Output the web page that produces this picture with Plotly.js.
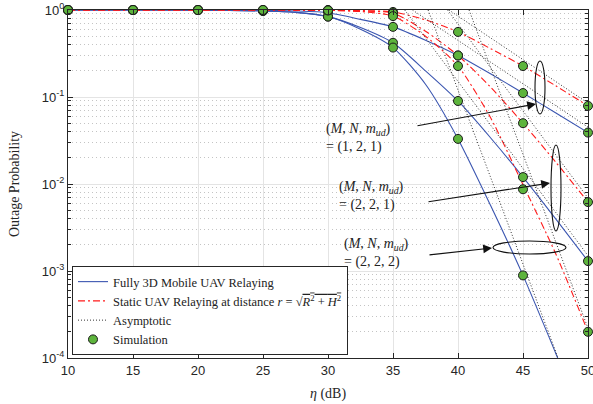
<!DOCTYPE html>
<html>
<head>
<meta charset="utf-8">
<script src="https://cdn.plot.ly/plotly-3.0.1.min.js"></script>
<style>html,body{margin:0;padding:0;background:#fff;}#chart{width:593px;height:404px;}</style>
</head>
<body>
<div id="chart"></div>
<script>
// ---- data ----
const eta = [10, 15, 20, 25, 27.5, 30, 32.5, 35, 37.5, 40, 42.5, 45, 47.5, 50];
const mobile121 = [1, 1, 0.999, 0.99, 0.975, 0.93, 0.78, 0.64, 0.45, 0.30, 0.185, 0.111, 0.066, 0.039];
const mobile221 = [1, 1, 0.998, 0.975, 0.94, 0.84, 0.63, 0.42, 0.20, 0.09, 0.034, 0.012, 0.004, 0.0013];
const mobile222 = [1, 1, 0.998, 0.975, 0.94, 0.84, 0.60, 0.37, 0.14, 0.033, 0.0057, 0.00089, 0.000115, 0.000014];
const static121 = [1, 1, 1, 1, 0.998, 0.995, 0.985, 0.95, 0.77, 0.56, 0.36, 0.227, 0.135, 0.079];
const static221 = [1, 1, 1, 1, 0.997, 0.99, 0.97, 0.92, 0.57, 0.30, 0.13, 0.05, 0.018, 0.0062];
const static222 = [1, 1, 1, 1, 0.997, 0.99, 0.96, 0.85, 0.50, 0.227, 0.058, 0.0098, 0.0016, 0.0002];

// asymptotes (straight lines, two end points each)
const asymMobile121X = [36.5, 50], asymMobile121Y = [1, 0.045];
const asymStatic121X = [39.3, 50], asymStatic121Y = [1, 0.085];
const asymMobile221X = [35.9, 50], asymMobile221Y = [1, 0.0015];
const asymStatic221X = [39.2, 50], asymStatic221Y = [1, 0.0069];
const asymMobile222X = [37.7, 50], asymMobile222Y = [1, 0.000012];
const asymStatic222X = [40.85, 50], asymStatic222Y = [1, 0.00022];

// simulation points
const simEta = [10, 15, 20, 25, 30, 35, 40, 45, 50];
const simMobile121 = [1, 1, 1, 0.99, 0.95, 0.64, 0.30, 0.111, 0.039];
const simMobile221 = [1, 1, 1, 0.975, 0.84, 0.42, 0.09, 0.012, 0.0013];
const simMobile222 = [1, 1, 1, 0.975, 0.84, 0.37, 0.033, 0.00089, null];
const simStatic121 = [1, 1, 1, 1, 1, 0.95, 0.56, 0.227, 0.079];
const simStatic221 = [1, 1, 1, 1, 0.99, 0.92, 0.30, 0.05, 0.0062];
const simStatic222 = [1, 1, 1, 1, 0.99, 0.85, 0.227, 0.0087, 0.0002];

const yTickVals = [1, 0.1, 0.01, 0.001, 0.0001];
const yTickText = ['10<sup>0</sup>', '10<sup>-1</sup>', '10<sup>-2</sup>', '10<sup>-3</sup>', '10<sup>-4</sup>'];
const xTickVals = [10, 15, 20, 25, 30, 35, 40, 45, 50];

const legendNames = [
  'Fully 3D Mobile UAV Relaying',
  'Static UAV Relaying at distance <i>r</i> = √<span style="text-decoration:overline"><i>R</i><sup>2</sup> + <i>H</i><sup>2</sup></span>',
  'Asymptotic',
  'Simulation'
];
const annTexts = [
  '(<i>M</i>, <i>N</i>, <i>m</i><sub><i>ud</i></sub>)<br>= (1, 2, 1)',
  '(<i>M</i>, <i>N</i>, <i>m</i><sub><i>ud</i></sub>)<br>= (2, 2, 1)',
  '(<i>M</i>, <i>N</i>, <i>m</i><sub><i>ud</i></sub>)<br>= (2, 2, 2)'
];

// ---- styling ----
const BLUE = '#3a55b0', RED = '#ff1a1a', GREEN = '#5db43c';
const SERIF = 'Liberation Serif, DejaVu Serif, serif';
const SANS = 'Liberation Sans, Arial, sans-serif';

// plot area in pixels: x 68..588, y 10..358
const L = 68, R = 588, T = 10, B = 358;
const px = v => (v - L) / (R - L);
const py = v => (B - v) / (B - T);

const traces = [];
function line(x, y, color, dash, name, show) {
  traces.push({x: x, y: y, type: 'scatter', mode: 'lines', name: name, showlegend: show,
    line: {color: color, width: 1.1, dash: dash, shape: 'spline', smoothing: 0.7}});
}
function asym(x, y, name, show) {
  traces.push({x: x, y: y, type: 'scatter', mode: 'lines', name: name, showlegend: show,
    line: {color: '#333', width: 1, dash: '1px,2px'}});
}
function sim(x, y, name, show) {
  traces.push({x: x, y: y, type: 'scatter', mode: 'markers', name: name, showlegend: show, cliponaxis: false,
    marker: {symbol: 'circle', size: 9, color: GREEN, line: {color: '#1a1a1a', width: 1}}});
}

line(eta, mobile121, BLUE, 'solid', legendNames[0], true);
line(eta, mobile221, BLUE, 'solid', legendNames[0], false);
line(eta, mobile222, BLUE, 'solid', legendNames[0], false);
line(eta, static121, RED, '7px,3px,2px,3px', legendNames[1], true);
line(eta, static221, RED, '7px,3px,2px,3px', legendNames[1], false);
line(eta, static222, RED, '7px,3px,2px,3px', legendNames[1], false);
asym(asymMobile121X, asymMobile121Y, legendNames[2], true);
asym(asymStatic121X, asymStatic121Y, legendNames[2], false);
asym(asymMobile221X, asymMobile221Y, legendNames[2], false);
asym(asymStatic221X, asymStatic221Y, legendNames[2], false);
asym(asymMobile222X, asymMobile222Y, legendNames[2], false);
asym(asymStatic222X, asymStatic222Y, legendNames[2], false);
sim(simEta, simMobile121, legendNames[3], true);
sim(simEta, simMobile221, legendNames[3], false);
sim(simEta, simMobile222, legendNames[3], false);
sim(simEta, simStatic121, legendNames[3], false);
sim(simEta, simStatic221, legendNames[3], false);
sim(simEta, simStatic222, legendNames[3], false);

const minorVals = [];
for (let e = -4; e < 0; e++) for (let m = 2; m <= 9; m++) minorVals.push(m * Math.pow(10, e));

const annFont = {family: SERIF, size: 14, color: '#222'};
const annotations = [
  {xref: 'paper', yref: 'paper', x: px(324), y: py(138), xanchor: 'left', yanchor: 'middle', align: 'left', showarrow: false, text: annTexts[0], font: annFont},
  {xref: 'paper', yref: 'paper', x: px(337), y: py(196), xanchor: 'left', yanchor: 'middle', align: 'left', showarrow: false, text: annTexts[1], font: annFont},
  {xref: 'paper', yref: 'paper', x: px(342), y: py(253), xanchor: 'left', yanchor: 'middle', align: 'left', showarrow: false, text: annTexts[2], font: annFont},
  {xref: 'paper', yref: 'paper', x: px(536), y: py(104), ax: -120, ay: 22, text: '', showarrow: true, arrowhead: 2, arrowsize: 1.6, arrowwidth: 1.1, arrowcolor: '#111', standoff: 0},
  {xref: 'paper', yref: 'paper', x: px(550), y: py(183), ax: -123, ay: 19, text: '', showarrow: true, arrowhead: 2, arrowsize: 1.6, arrowwidth: 1.1, arrowcolor: '#111', standoff: 0},
  {xref: 'paper', yref: 'paper', x: px(492), y: py(248), ax: -64, ay: 7, text: '', showarrow: true, arrowhead: 2, arrowsize: 1.6, arrowwidth: 1.1, arrowcolor: '#111', standoff: 0}
];

const shapes = [
  {type: 'circle', xref: 'paper', yref: 'paper', x0: px(535), x1: px(545), y0: py(114), y1: py(61), line: {color: '#111', width: 1.1}},
  {type: 'circle', xref: 'paper', yref: 'paper', x0: px(551), x1: px(561), y0: py(231), y1: py(145), line: {color: '#111', width: 1.1}},
  {type: 'circle', xref: 'paper', yref: 'paper', x0: px(493), x1: px(566), y0: py(254), y1: py(241), line: {color: '#111', width: 1.1}}
];

const layout = {
  width: 593, height: 404,
  margin: {l: L, r: 593 - R, t: T, b: 404 - B},
  paper_bgcolor: '#fff', plot_bgcolor: '#fff',
  showlegend: true,
  legend: {x: px(72), y: py(355), xanchor: 'left', yanchor: 'bottom', bgcolor: '#fff', bordercolor: '#262626', borderwidth: 1,
    font: {family: SERIF, size: 12.5, color: '#222'}, tracegroupgap: 0, traceorder: 'normal'},
  xaxis: {
    range: [10, 50], tickvals: xTickVals, ticks: 'inside', ticklen: 5, tickcolor: '#262626',
    showline: true, linecolor: '#262626', linewidth: 1, mirror: 'ticks', zeroline: false,
    showgrid: true, gridcolor: '#e4e4e4', gridwidth: 1, ticklabeloverflow: 'allow',
    tickfont: {family: SANS, size: 13, color: '#262626'},
    title: {text: '<i>η</i> (dB)', font: {family: SERIF, size: 14, color: '#262626'}, standoff: 11}
  },
  yaxis: {
    type: 'log', range: [-4, 0], tickvals: yTickVals, ticktext: yTickText, ticks: 'inside', ticklen: 5, tickcolor: '#262626',
    showline: true, linecolor: '#262626', linewidth: 1, mirror: 'ticks', zeroline: false,
    showgrid: true, gridcolor: '#e4e4e4', gridwidth: 1, ticklabeloverflow: 'allow',
    tickfont: {family: SANS, size: 13, color: '#262626'},
    minor: {tickvals: minorVals, ticks: 'inside', ticklen: 3, tickcolor: '#262626', showgrid: true, gridcolor: '#c4c4c4', griddash: '1px,3px', gridwidth: 1},
    title: {text: 'Outage Probability', font: {family: SERIF, size: 14, color: '#262626'}, standoff: 18}
  },
  annotations: annotations,
  shapes: shapes
};

Plotly.newPlot('chart', traces, layout, {displayModeBar: false, staticPlot: true});
</script>
</body>
</html>
